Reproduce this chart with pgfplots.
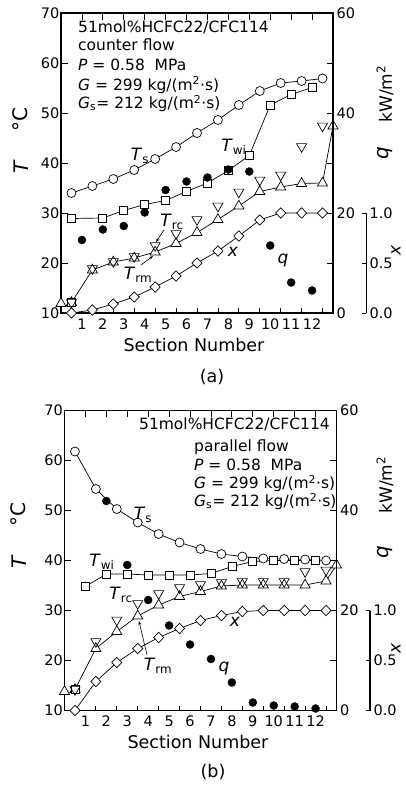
\documentclass[border=0pt]{standalone}
\usepackage{pgfplots}
\pgfplotsset{compat=1.18}
\usepackage{fontspec}
\setmainfont{DejaVu Sans}
\usetikzlibrary{arrows.meta}
\newcommand\tlf{\fontsize{14.5}{14.5}\selectfont}
\newcommand\lgf{\fontsize{15.5}{18}\selectfont}
\newcommand\anf{\fontsize{17}{17}\selectfont}
\newcommand\axf{\fontsize{20}{20}\selectfont}
\newcommand\snf{\fontsize{17.5}{17.5}\selectfont}
\pgfplotsset{
  panel/.style={scale only axis, width=272pt, height=300pt, xmin=0, xmax=13, clip=false,
    axis line style={line width=1.1pt}, every tick/.style={black, line width=0.8pt},
    tick align=inside, tick label style={font=\tlf}},
  tsS/.style={black, line width=0.7pt, mark=*, mark size=4.5pt, mark options={fill=white, line width=0.7pt}},
  twS/.style={black, line width=0.7pt, mark=square*, mark size=4pt, mark options={fill=white, line width=0.7pt}},
  upS/.style={black, line width=0.7pt, mark=triangle*, mark size=5.8pt, mark options={fill=white, line width=0.7pt}},
  dnS/.style={black, only marks, mark=triangle, mark size=5.8pt, mark options={rotate=180, line width=0.7pt}},
  xS/.style={black, line width=0.7pt, mark=diamond*, mark size=5.2pt, mark options={fill=white, line width=0.7pt, xscale=1.3}},
  qS/.style={black, only marks, mark=*, mark size=4pt},
}
\begin{document}
\begin{tikzpicture}[x=1pt,y=1pt]
\useasboundingbox (0,0) rectangle (405,-785);

%%%%%%%%%%%%%%%%%%%% Panel (a)
\begin{axis}[panel, at={(61pt,-313pt)}, anchor=south west, ymin=10, ymax=70,
  ytick={10,20,30,40,50,60,70}, yticklabels={10,20,30,40,50,60,70}, ytick pos=left,
  xtick={1,...,12}, xticklabels={}, xtick pos=right, major tick length=6.5pt,
  yticklabel style={inner xsep=1.5pt}]
\addplot[tsS] coordinates {(0.5,34.0) (1.5,35.4) (2.5,36.8) (3.5,38.6) (4.5,40.8) (5.5,43.2) (6.5,46.0) (7.5,48.6) (8.5,51.6) (9.5,54.4) (10.5,56.0) (11.5,56.4) (12.5,56.9)};
\addplot[twS] coordinates {(0.5,28.9) (2,29.0) (3,30.5) (4,31.7) (5,32.5) (6,34.3) (7,36.0) (8,38.5) (9,41.5) (10,51.6) (11,53.7) (12,55.1)};
\addplot[upS] coordinates {(0.5,12.1) (1.5,18.6) (2.5,20.2) (3.5,21.0) (4.5,22.2) (5.5,23.9) (6.5,26.1) (7.5,28.7) (8.5,31.4) (9.5,34.3) (10.5,35.2) (11.5,35.9) (12.5,36.0) (13,47.4)};
\addplot[upS, only marks] coordinates {(0,11.9)};
\addplot[twS, only marks] coordinates {(0.5,12.1)};
\addplot[dnS] coordinates {(0.5,12.1) (1.5,18.9) (2.5,20.3) (3.5,21.3) (4.5,23.5) (5.5,25.9) (6.5,28.7) (7.5,31.4) (8.5,34.2) (9.5,36.6) (10.5,37.6) (11.5,43.3) (12.5,47.4)};
\end{axis}
\begin{axis}[panel, at={(61pt,-313pt)}, anchor=south west, ymin=10, ymax=70,
  hide y axis, axis x line*=bottom, xtick={1,...,12}, xticklabels={1,2,3,4,5,6,7,8,9,10,11,12},
  major tick length=0pt, minor xtick={1.5,2.5,...,12.5}, minor tick length=5pt,
  xticklabel style={yshift=-2pt}]
\end{axis}
\begin{axis}[panel, at={(61pt,-313pt)}, anchor=south west, ymin=0, ymax=60,
  axis x line=none, axis y line*=right, ytick={0,10,20,30,40,50,60}, yticklabels={0,,20,,40,,60},
  major tick length=6.5pt]
\addplot[qS] coordinates {(1,14.6) (2,16.7) (3,17.4) (4,20.1) (5,24.6) (6,26.3) (7,27.1) (8,28.7) (9,28.3) (10,13.5) (11,6.1) (12,4.5)};
\end{axis}
\begin{axis}[panel, at={(61pt,-313pt)}, anchor=south west, ymin=0, ymax=3, hide axis]
\addplot[xS] coordinates {(0.5,0.0) (1.5,0.03) (2.5,0.09) (3.5,0.16) (4.5,0.26) (5.5,0.37) (6.5,0.50) (7.5,0.62) (8.5,0.77) (9.5,0.93) (10.5,1.0) (11.5,1.0) (12.5,1.0)};
\end{axis}
\begin{axis}[scale only axis, width=10pt, height=100pt, at={(366pt,-313pt)}, anchor=south east,
  xmin=0, xmax=1, ymin=0, ymax=1, axis x line=none, axis y line*=right,
  ytick={0,0.5,1}, yticklabels={0.0,0.5,1.0}, major tick length=4pt, tick align=inside,
  axis line style={line width=0.9pt}, every tick/.style={black, line width=0.8pt},
  tick label style={font=\tlf}]
\end{axis}

% legend text (a)
\node[anchor=base west, inner sep=0pt, font=\lgf] at (78,-32.7) {51mol\%HCFC22/CFC114};
\node[anchor=base west, inner sep=0pt, font=\lgf] at (78,-50) {counter flow};
\node[anchor=base west, inner sep=0pt, font=\lgf] at (78,-70.7) {\textit{P} = 0.58\ \ MPa};
\node[anchor=base west, inner sep=0pt, font=\lgf] at (78,-90) {\textit{G} = 299 kg/(m\textsuperscript{2}·s)};
\node[anchor=base west, inner sep=0pt, font=\lgf] at (78,-108.3) {\textit{G}\textsubscript{s}= 212 kg/(m\textsuperscript{2}·s)};
% annotations (a)
\node[font=\anf] at (140,-156) {\textit{T}\textsubscript{s}};
\node[font=\anf] at (234,-147) {\textit{T}\textsubscript{wi}};
\node[font=\anf] at (172,-222) {\textit{T}\textsubscript{rc}};
\node[font=\anf] at (138,-275) {\textit{T}\textsubscript{rm}};
\node[font=\anf] at (233,-252) {\textit{x}};
\node[font=\anf] at (283,-260) {\textit{q}};
\draw[line width=0.6pt, -{Stealth[length=4pt,width=3pt]}] (164,-230) -- (156,-242);
\draw[line width=0.6pt, -{Stealth[length=4pt,width=3pt]}] (141,-265) -- (153,-256);
% axis labels (a)
\node[rotate=90, font=\axf] at (21,-167) {\textit{T}};
\node[rotate=90, font=\axf] at (20,-120) {°C};
\node[rotate=90, font=\axf] at (385,-153) {\textit{q}};
\node[rotate=90, font=\anf] at (385,-94) {kW/m\textsuperscript{2}};
\node[rotate=90, font=\anf] at (396,-250) {\textit{x}};
\node[font=\snf] at (194,-345) {Section Number};
\node[font=\snf] at (212,-377) {(a)};

%%%%%%%%%%%%%%%%%%%% Panel (b)
\begin{axis}[panel, at={(64.5pt,-710.5pt)}, anchor=south west, ymin=10, ymax=70,
  ytick={10,20,30,40,50,60,70}, yticklabels={10,20,30,40,50,60,70}, ytick pos=left,
  xtick={1,...,12}, xticklabels={}, xtick pos=right, major tick length=6.5pt,
  yticklabel style={inner xsep=1.5pt}]
\addplot[tsS] coordinates {(0.5,61.8) (1.5,54.3) (2.5,50.3) (3.5,47.6) (4.5,45.3) (5.5,43.6) (6.5,42.3) (7.5,41.3) (8.5,40.8) (9.5,40.4) (10.5,40.3) (11.5,40.2) (12.5,40.0)};
\addplot[twS] coordinates {(1,34.8) (2,37.3) (3,37.3) (4,37.1) (5,37.1) (6,37.1) (7,37.4) (8,38.8) (9,39.8) (10,40.0) (11,40.0) (12,40.0)};
\addplot[upS] coordinates {(0.5,14.2) (1.5,22.4) (2.5,25.8) (3.5,28.9) (4.5,31.1) (5.5,32.8) (6.5,33.8) (7.5,34.9) (8.5,35.1) (9.5,35.1) (10.5,35.1) (11.5,35.1) (12.5,35.9) (13,39.1)};
\addplot[upS, only marks] coordinates {(0,13.8)};
\addplot[twS, only marks] coordinates {(0.5,14.2)};
\addplot[dnS] coordinates {(0.5,14.2) (1.5,23.8) (2.5,28.1) (3.5,31.4) (4.5,33.4) (5.5,34.6) (6.5,35.2) (7.5,35.6) (8.5,35.8) (9.5,35.8) (10.5,35.8) (11.5,37.8) (12.5,38.1)};
\end{axis}
\begin{axis}[panel, at={(64.5pt,-710.5pt)}, anchor=south west, ymin=10, ymax=70,
  hide y axis, axis x line*=bottom, xtick={1,...,12}, xticklabels={1,2,3,4,5,6,7,8,9,10,11,12},
  major tick length=0pt, minor xtick={1.5,2.5,...,12.5}, minor tick length=5pt,
  xticklabel style={yshift=-2pt}]
\end{axis}
\begin{axis}[panel, at={(64.5pt,-710.5pt)}, anchor=south west, ymin=0, ymax=60,
  axis x line=none, axis y line*=right, ytick={0,10,20,30,40,50,60}, yticklabels={0,,20,,40,,60},
  major tick length=6.5pt]
\addplot[qS] coordinates {(2,41.9) (3,29.1) (4,22.1) (5,17.0) (6,13.2) (7,10.3) (8,5.6) (9,1.6) (10,1.0) (11,0.8) (12,0.4)};
\end{axis}
\begin{axis}[panel, at={(64.5pt,-710.5pt)}, anchor=south west, ymin=0, ymax=3, hide axis]
\addplot[xS] coordinates {(0.5,0.0) (1.5,0.29) (2.5,0.48) (3.5,0.62) (4.5,0.73) (5.5,0.82) (6.5,0.90) (7.5,0.95) (8.5,0.99) (9.5,1.0) (10.5,1.0) (11.5,1.0) (12.5,1.0)};
\end{axis}
\begin{axis}[scale only axis, width=10pt, height=100pt, at={(370pt,-710.5pt)}, anchor=south east,
  xmin=0, xmax=1, ymin=0, ymax=1, axis x line=none, axis y line*=right,
  ytick={0,0.5,1}, yticklabels={0.0,0.5,1.0}, major tick length=4pt, tick align=inside,
  axis line style={line width=1.1pt}, every tick/.style={black, line width=0.8pt},
  tick label style={font=\tlf}]
\end{axis}

% legend text (b)
\node[anchor=base east, inner sep=0pt, font=\lgf] at (330,-429.3) {51mol\%HCFC22/CFC114};
\node[anchor=base west, inner sep=0pt, font=\lgf] at (194,-451.7) {parallel flow};
\node[anchor=base west, inner sep=0pt, font=\lgf] at (194,-470) {\textit{P} = 0.58\ \ MPa};
\node[anchor=base west, inner sep=0pt, font=\lgf] at (194,-488.3) {\textit{G} = 299 kg/(m\textsuperscript{2}·s)};
\node[anchor=base west, inner sep=0pt, font=\lgf] at (194,-506.7) {\textit{G}\textsubscript{s}= 212 kg/(m\textsuperscript{2}·s)};
% annotations (b)
\node[font=\anf] at (143,-515) {\textit{T}\textsubscript{s}};
\node[font=\anf] at (102,-562) {\textit{T}\textsubscript{wi}};
\node[font=\anf] at (121,-595) {\textit{T}\textsubscript{rc}};
\node[font=\anf] at (158,-666) {\textit{T}\textsubscript{rm}};
\node[font=\anf] at (235,-622) {\textit{x}};
\node[font=\anf] at (224,-668) {\textit{q}};
\draw[line width=0.6pt, -{Stealth[length=4pt,width=3pt]}] (147,-655) -- (139,-621);
% axis labels (b)
\node[rotate=90, font=\axf] at (19,-562) {\textit{T}};
\node[rotate=90, font=\axf] at (18,-515) {°C};
\node[rotate=90, font=\axf] at (385,-552) {\textit{q}};
\node[rotate=90, font=\anf] at (385,-485) {kW/m\textsuperscript{2}};
\node[rotate=90, font=\anf] at (396,-648) {\textit{x}};
\node[font=\snf] at (198,-742) {Section Number};
\node[font=\snf] at (213,-772) {(b)};
\end{tikzpicture}
\end{document}
